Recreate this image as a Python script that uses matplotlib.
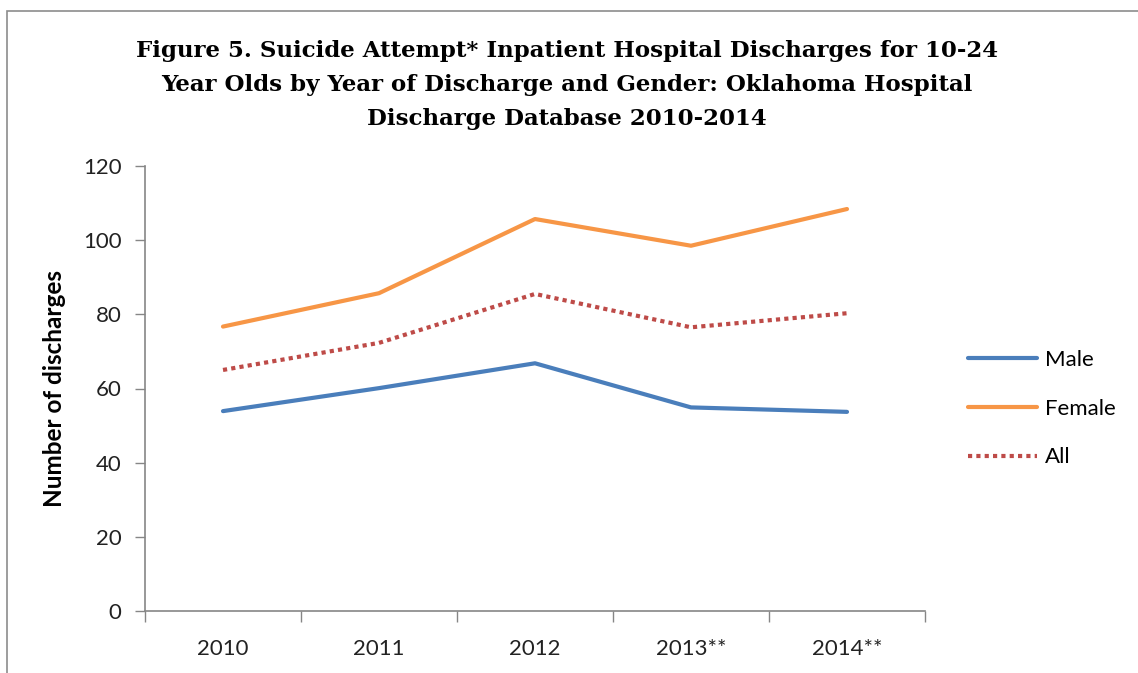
import matplotlib
matplotlib.use("Agg")
import matplotlib.pyplot as plt
import numpy as np
from matplotlib.patches import Rectangle

# values
years = ['2010', '2011', '2012', '2013**', '2014**']
male = [53.9, 60.1, 66.8, 54.9, 53.7]
female = [76.7, 85.7, 105.7, 98.5, 108.4]
all_ = [65.0, 72.3, 85.5, 76.5, 80.3]

title = ('Figure 5. Suicide Attempt* Inpatient Hospital Discharges for 10-24\n'
         'Year Olds by Year of Discharge and Gender: Oklahoma Hospital\n'
         'Discharge Database 2010-2014')

fig = plt.figure(figsize=(11.38, 6.73), dpi=100)
# outer chart frame (only left and top edges visible in the reference)
fig.patches.append(Rectangle((7 / 1138, -0.1), 1.2, (673 - 11) / 673 + 0.1,
                             transform=fig.transFigure, fill=False,
                             edgecolor='#8c8c8c', linewidth=1.2))

ax = fig.add_axes([145 / 1138, 62 / 673, 780 / 1138, 445 / 673])
x = np.arange(len(years))

ax.plot(x, male, color='#4A7EBB', linewidth=3, solid_capstyle='round', label='Male')
ax.plot(x, female, color='#F79646', linewidth=3, solid_capstyle='round', label='Female')
ax.plot(x, all_, color='#BE4B48', linewidth=3, linestyle=(0, (1, 1)),
        dash_capstyle='butt', label='All')

ax.set_xlim(-0.5, len(years) - 0.5)
ax.set_ylim(0, 120)
ax.set_yticks(range(0, 121, 20))

ax.set_xticks(x)
ax.set_xticklabels(years)
ax.set_xticks(np.arange(-0.5, len(years), 1), minor=True)
ax.tick_params(axis='x', which='major', length=0, pad=20)
ax.tick_params(axis='x', which='minor', length=8, color='#868686', width=1)
ax.tick_params(axis='y', length=7, color='#868686', width=1, pad=10)

for lab in ax.get_xticklabels() + ax.get_yticklabels():
    lab.set_fontfamily('Lato')
    lab.set_fontsize(16)
    lab.set_color('#222222')

for s in ['top', 'right']:
    ax.spines[s].set_visible(False)
for s in ['left', 'bottom']:
    ax.spines[s].set_color('#868686')
    ax.spines[s].set_linewidth(1.2)

ax.set_ylabel('Number of discharges', fontfamily='Lato', fontweight='bold',
              fontsize=17.5, labelpad=12)

fig.text(567 / 1138, 1 - 85 / 673, title, ha='center', va='center',
         fontfamily='DejaVu Serif', fontweight='bold', fontsize=16.5,
         linespacing=1.7)

leg = ax.legend(loc='center left', bbox_to_anchor=(1.03, 0.455), frameon=False,
                prop={'family': 'Lato', 'size': 16}, handlelength=3.1,
                labelspacing=1.3, handletextpad=0.35)

fig.savefig('out.png', dpi=100)
